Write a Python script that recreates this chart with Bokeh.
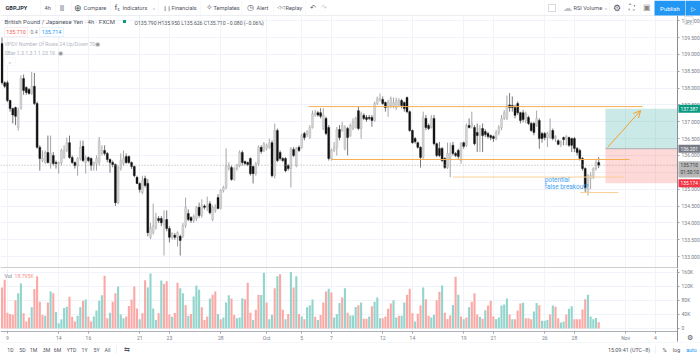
from bokeh.plotting import figure
from bokeh.layouts import column
from bokeh.embed import file_html
from bokeh.resources import INLINE
from bokeh.models import (Range1d, FixedTicker, LinearAxis, Label, BoxAnnotation, Arrow, OpenHead,
                          NumeralTickFormatter)

opens = [
139.32,138.16,138.16,137.63,137.39,137.42,136.83,137.39,138.28,138.02,
137.96,137.84,138.05,137.54,136.24,135.85,135.79,136.09,135.76,136.00,
135.79,135.76,135.79,135.94,136.15,136.38,135.94,135.79,135.70,135.91,
136.27,135.79,135.94,135.91,135.70,135.76,135.79,136.06,136.15,136.06,
135.88,135.79,135.73,134.60,135.61,135.76,135.97,135.97,135.79,135.67,
135.35,135.17,134.90,135.32,135.17,133.57,133.71,133.86,134.13,134.13,
133.95,134.10,133.83,133.57,133.63,133.57,133.60,133.60,133.92,134.28,
134.16,134.07,134.13,134.46,134.22,134.50,134.46,134.57,134.10,134.37,
134.75,134.43,134.96,135.05,135.61,135.64,135.29,135.61,135.70,136.09,
135.82,135.79,135.91,135.67,135.46,135.76,136.24,136.15,136.21,136.24,
136.38,135.40,136.74,136.09,135.91,135.91,135.70,135.61,136.18,135.70,
136.24,136.24,136.65,136.62,136.53,136.83,137.20,137.27,137.27,136.80,
137.10,136.83,135.91,136.15,136.24,136.77,136.74,136.21,136.80,136.59,
136.80,136.83,137.33,136.80,137.19,137.13,137.13,137.13,137.04,137.54,
137.63,137.66,137.57,137.42,137.48,137.45,137.42,137.51,137.63,137.57,
137.72,137.30,136.74,136.50,136.38,136.24,135.94,137.10,136.89,136.83,
137.10,136.35,136.21,136.21,135.91,135.64,135.91,136.30,136.06,136.15,
135.85,136.38,136.30,136.89,136.86,136.83,136.68,136.59,136.80,136.71,
136.65,136.59,136.56,136.53,136.68,136.83,137.10,137.10,137.50,137.48,
137.42,137.54,137.27,137.27,137.04,137.13,136.95,136.95,136.89,137.04,
136.65,136.65,136.53,136.53,136.74,136.50,136.44,136.33,136.53,136.50,
136.53,136.50,136.50,136.21,136.15,135.91,135.61,134.90,135.32,135.35,
135.61,135.79]
highs = [
139.50,138.20,138.22,137.66,137.42,137.45,137.42,138.38,138.40,138.05,
138.00,138.48,138.45,137.60,136.30,136.15,136.15,136.59,136.59,136.10,
135.85,135.82,136.20,136.30,136.53,136.59,136.00,135.82,135.95,136.44,
136.44,136.00,135.97,135.94,135.82,136.00,136.55,136.30,136.30,136.10,
135.91,135.85,135.76,135.70,136.06,136.15,136.06,136.00,135.82,135.70,
135.40,135.20,135.40,135.40,135.30,134.00,134.57,134.30,134.20,134.20,
134.37,134.37,133.90,133.72,133.70,133.75,133.65,134.00,134.75,134.40,
134.20,134.25,134.50,134.60,134.70,134.55,134.78,134.65,134.52,134.55,
134.85,135.00,135.10,136.21,135.80,135.70,135.65,135.75,136.15,136.15,
135.85,135.82,135.94,135.70,135.80,136.30,136.30,136.40,136.35,136.50,
136.45,136.95,136.80,136.15,135.95,135.95,135.75,136.25,136.25,136.25,
136.30,136.65,136.70,136.75,136.90,137.33,137.35,137.32,137.40,137.40,
137.15,136.90,136.20,136.40,136.85,136.90,137.00,136.90,136.85,136.95,
137.10,137.15,137.45,137.30,137.25,137.20,137.20,137.20,137.60,137.75,
137.84,137.75,137.60,137.65,137.75,137.72,137.72,137.70,137.68,137.60,
137.75,137.33,136.77,136.55,136.41,136.27,137.30,137.20,136.95,137.20,
137.20,136.38,136.40,136.25,135.95,136.38,136.38,136.40,136.10,136.20,
136.40,136.41,136.95,137.10,137.30,136.90,136.95,136.90,136.95,136.78,
136.70,136.62,136.60,136.75,136.90,137.20,137.35,137.78,137.85,137.75,
137.50,137.60,137.30,137.35,137.30,137.18,137.00,137.00,137.33,137.10,
136.70,136.70,136.70,137.10,136.80,136.60,136.48,136.45,136.56,136.60,
136.56,136.53,136.55,136.25,136.20,135.95,135.65,135.45,135.50,135.65,
135.90,135.95]
lows = [
138.10,138.00,137.58,137.30,136.95,136.90,136.74,137.36,137.80,137.80,
137.80,137.80,137.50,136.20,135.55,135.80,135.75,135.76,135.61,135.70,
135.61,135.46,135.70,135.90,136.10,135.90,135.75,135.61,135.40,135.85,
135.80,135.46,135.80,135.55,135.55,135.55,135.70,136.00,136.00,135.80,
135.49,135.65,134.50,134.55,135.55,135.70,135.75,135.75,135.60,135.35,
135.15,134.90,134.85,135.05,133.60,133.52,133.65,133.80,134.00,133.90,
133.03,133.75,133.42,133.50,133.50,133.30,133.03,133.55,133.85,134.05,
134.00,134.00,134.05,134.15,134.15,134.40,134.35,134.25,134.05,134.30,
134.40,134.40,134.90,135.00,135.55,135.25,135.25,135.55,135.65,135.70,
135.70,135.68,135.40,135.17,135.40,135.70,136.05,136.10,136.15,136.20,
135.35,135.32,135.80,135.85,135.80,135.50,135.55,135.05,135.95,135.65,
136.10,136.20,136.45,136.55,136.50,136.80,137.15,137.15,137.10,136.75,
136.60,135.85,135.85,136.10,136.00,136.45,136.70,136.15,136.00,136.55,
136.75,136.80,136.75,136.50,137.05,137.00,137.05,136.85,137.00,137.50,
137.60,137.50,137.30,137.15,137.40,137.40,137.35,137.45,137.40,137.30,
137.25,136.70,136.35,136.35,136.20,135.64,135.90,136.75,136.75,136.80,
136.30,135.95,135.95,135.80,135.60,135.60,135.35,136.00,135.95,135.90,
135.75,136.20,136.25,136.80,136.80,136.30,136.10,136.10,136.10,136.55,
136.50,136.45,136.40,136.45,136.60,136.75,137.05,137.05,137.30,137.30,
137.10,137.20,136.95,136.98,136.95,136.90,136.70,136.60,136.85,136.20,
136.38,136.45,136.25,136.50,136.45,136.40,136.30,136.25,136.30,136.30,
136.25,136.10,136.10,136.00,135.85,135.55,134.90,134.81,135.00,135.30,
135.55,135.626]
closes = [
138.16,138.05,137.63,137.39,137.20,137.16,137.33,138.28,137.93,137.87,
137.84,138.05,137.54,136.24,135.91,135.91,136.09,135.79,136.06,135.76,
135.76,135.79,136.15,136.15,136.38,135.94,135.79,135.70,135.91,136.24,
135.85,135.91,135.85,135.70,135.79,135.91,136.44,136.15,136.06,135.88,
135.79,135.73,134.60,135.64,135.85,135.91,135.79,135.79,135.67,135.40,
135.17,134.99,135.26,135.11,133.71,133.86,133.92,134.16,134.07,134.00,
134.07,133.83,133.57,133.68,133.57,133.71,133.48,133.92,134.46,134.10,
134.07,134.19,134.46,134.22,134.52,134.46,134.52,134.30,134.46,134.46,
134.43,134.96,135.05,135.70,135.70,135.29,135.61,135.70,136.09,135.79,
135.76,135.73,135.46,135.46,135.76,136.24,136.12,136.35,136.30,136.38,
135.40,136.74,135.85,135.91,135.85,135.55,135.61,136.21,136.00,136.21,
136.15,136.59,136.53,136.71,136.83,137.24,137.27,137.20,137.16,137.19,
136.65,135.91,136.15,136.24,136.77,136.53,136.89,136.83,136.53,136.89,
137.01,137.10,136.80,137.24,137.10,137.07,137.10,137.04,137.54,137.69,
137.69,137.54,137.42,137.57,137.69,137.57,137.63,137.63,137.48,137.39,
137.30,136.74,136.38,136.41,136.24,135.94,137.13,136.83,136.80,137.10,
136.35,136.00,136.00,135.85,135.64,136.06,136.06,136.06,136.00,135.97,
136.35,136.27,136.89,136.83,136.95,136.35,136.59,136.80,136.59,136.62,
136.56,136.53,136.50,136.68,136.83,137.10,137.27,137.48,137.42,137.42,
137.19,137.27,137.04,137.07,137.24,136.95,136.74,136.68,137.10,136.50,
136.50,136.53,136.65,136.74,136.50,136.56,136.33,136.41,136.47,136.56,
136.30,136.30,136.21,136.09,135.91,135.61,135.05,135.40,135.40,135.61,
135.79,135.71]
volumes_k = [
116,138,45,41,39,80,100,128,43,20,31,60,112,148,76,38,36,74,105,100,
47,15,26,58,62,90,33,20,36,60,79,82,34,20,34,51,79,94,150,29,
45,76,100,119,40,29,34,64,82,119,57,26,43,137,116,156,57,24,43,136,
126,134,40,33,44,130,114,100,66,36,41,91,122,110,60,24,34,85,96,105,
41,26,31,74,94,85,38,29,31,86,83,130,45,24,53,96,95,158,74,26,
39,114,148,154,53,26,41,160,116,148,41,34,26,60,66,82,33,24,38,74,
105,113,102,31,41,72,88,114,45,
37,37,61,66,74,28,28,34,63,76,88,29,29,34,56,71,80,31,36,36,
74,96,113,43,20,42,65,116,83,36,31,39,80,104,122,45,27,37,67,147,
96,34,26,31,60,76,100,40,33,28,52,65,79,34,26,31,65,68,85,40,
26,26,51,71,73,29,29,26,48,72,66,22,22,24,40,65,62,29,17,20,
40,56,63,26,26,26,54,83,96,34,26,30,18]
volume_up = [
0,0,0,0,0,0,1,1,0,0,0,1,0,0,0,0,1,0,1,0,
1,1,1,1,1,0,0,0,1,1,0,1,0,0,1,1,1,1,0,0,
1,0,0,1,1,1,0,0,0,0,0,1,0,0,1,1,1,1,0,1,
0,0,0,1,0,0,1,1,0,1,0,1,1,1,0,0,0,1,0,0,
1,0,1,1,1,0,0,1,1,1,0,0,0,1,0,0,1,1,0,1,
1,0,1,0,0,1,0,1,0,1,0,1,0,1,1,1,0,1,0,0,
0,1,0,1,1,1,0,1,0,
1,1,1,0,1,0,0,1,0,1,1,1,0,0,0,0,1,1,0,1,
1,0,0,0,1,0,0,1,0,0,1,1,0,0,1,0,0,0,1,0,
1,0,1,0,1,0,0,0,1,0,1,0,0,0,1,1,1,1,1,0,
1,0,0,0,1,0,0,0,1,1,0,1,1,1,0,1,0,0,1,1,
0,1,1,0,0,0,0,0,1,1,1,1,0]
tick_idx = [2,21,32,51,62,81,98,111,122,141,152,171,182,201,212,231,242]
tick_txt = ["9","14","16","21","23","28","Oct","5","7","12","14","19","21","26","28","Nov","4"]
price_ticks = [133.0,133.5,134.0,134.5,135.0,135.5,136.0,136.5,137.0,137.5,138.0,138.5,139.0,139.5,140.0]
vol_ticks = [0,40,80,120,160]
vol_txt = ["0","40K","80K","120K","160K"]
resistance = 137.45
levels = [135.88,135.36,134.90]
target, entry, stop, last = 137.387, 136.201, 135.174, 135.71
title = "British Pound / Japanese Yen \u00b7 4h \u00b7 FXCM"
ohlc_txt = "O135.790 H135.950 L135.626 C135.710 \u22120.080 (\u22120.06%)"

W, H = 700, 357
PB = 268
VB = 357
FONT = "Roboto"
GRID = "#f0f3fa"
AX = "#787b86"
XR = Range1d(-0.556, 258.7)
XEND = 250.2          # right edge of the panes
P_TOP, P_BOT = 140.153, 132.646
V_TOP, V_BOT, V_END = 170000, -8500, -36900

def base(h, yr):
    f = figure(width=W, height=h, x_range=XR, y_range=yr, output_backend="svg", toolbar_location=None,
               min_border=0, x_axis_location=None, y_axis_location=None)
    f.outline_line_color = None
    f.background_fill_color = "white"
    f.border_fill_color = "white"
    f.xgrid.ticker = FixedTicker(ticks=tick_idx)
    f.xgrid.grid_line_color = GRID
    f.ygrid.grid_line_color = GRID
    return f

p = base(PB, Range1d(132.646, 140.598))
v = base(H-PB, Range1d(-82270, 170213))
p.ygrid.ticker = FixedTicker(ticks=price_ticks)
v.ygrid.ticker = FixedTicker(ticks=[t*1000 for t in vol_ticks])

def axis(f, ticks, bounds):
    a = LinearAxis(ticker=FixedTicker(ticks=ticks), fixed_location=XEND, bounds=bounds)
    a.axis_line_color = "#8a8d96"
    a.axis_line_width = 1
    a.major_tick_line_color = "#a0a3ab"
    a.major_tick_out = 2
    a.major_tick_in = 0
    a.minor_tick_out = 0
    a.minor_tick_in = 0
    a.major_label_standoff = 2
    a.major_label_text_font = FONT
    a.major_label_text_font_size = "5px"
    a.major_label_text_color = AX
    f.add_layout(a, "right")
    return a

# white masks over the grid outside the panes
p.quad(-1, 260, P_TOP, 141, fill_color="white", line_color=None)
p.quad(XEND, 260, 132, 141, fill_color="white", line_color=None)
v.quad(-1, 260, -90000, V_BOT, fill_color="white", line_color=None)
v.quad(XEND, 260, -90000, 180000, fill_color="white", line_color=None)

pa = axis(p, price_ticks, (P_BOT, P_TOP))
pa.formatter = NumeralTickFormatter(format="0.000")
va = axis(v, [t*1000 for t in vol_ticks], (V_END, V_TOP))
va.major_label_overrides = {t*1000: s for t, s in zip(vol_ticks, vol_txt)}

xa = LinearAxis(ticker=FixedTicker(ticks=tick_idx), major_label_overrides=dict(zip(tick_idx, tick_txt)),
                fixed_location=V_BOT, bounds=(-0.556, XEND))
xa.axis_line_color = "#aeb0b7"
xa.major_tick_line_color = "#a0a3ab"
xa.major_tick_out = 2
xa.major_tick_in = 0
xa.minor_tick_out = 0
xa.minor_tick_in = 0
xa.major_label_standoff = 2
xa.major_label_text_font = FONT
xa.major_label_text_font_size = "5px"
xa.major_label_text_color = AX
v.add_layout(xa, "below")

# candles
idx = list(range(len(opens)))
assert len(opens) == len(highs) == len(lows) == len(closes)
up = [i for i in idx if closes[i] >= opens[i]]
dn = [i for i in idx if closes[i] < opens[i]]
p.segment([i for i in up], [highs[i] for i in up], [i for i in up], [lows[i] for i in up],
          line_color="#8f8f8f", line_width=0.8)
p.segment([i for i in dn], [highs[i] for i in dn], [i for i in dn], [lows[i] for i in dn],
          line_color="#555555", line_width=0.8)
p.vbar([i for i in up], 0.72, [closes[i] for i in up], [opens[i] for i in up],
       fill_color="#d4d4d4", line_color="#b0b0b0", line_width=0.4)
p.vbar([i for i in dn], 0.72, [opens[i] for i in dn], [closes[i] for i in dn],
       fill_color="#111111", line_color="#111111", line_width=0.4)

# volume
vi = list(range(len(volumes_k)))
v.vbar(vi, 0.78, [volumes_k[i]*1000 for i in vi], 0,
       fill_color=["#92d5cd" if volume_up[i] else "#fba9a6" for i in vi], line_color=None)

# drawings
ORANGE = "#f7b04f"
ORANGE2 = "#fbcf96"
p.quad(223.5, XEND, target, entry, fill_color="#26a69a", fill_alpha=0.24, line_color=None)
p.quad(223.5, XEND, entry, stop, fill_color="#f44336", fill_alpha=0.2, line_color=None)
p.segment(223.5, entry, XEND, entry, line_color="#9aa0a6", line_width=0.8)
p.segment(113.5, resistance, 237.2, resistance, line_color=ORANGE, line_width=1)
p.segment(122, levels[0], 232.4, levels[0], line_color=ORANGE, line_width=1)
p.segment(167, levels[1], 230.2, levels[1], line_color=ORANGE2, line_width=1)
p.segment(214.2, levels[2], 228.3, levels[2], line_color=ORANGE2, line_width=1)
p.add_layout(Arrow(end=OpenHead(size=7, line_color="#f59f2d", line_width=1), x_start=224.3, y_start=136.24,
                   x_end=236.5, y_end=137.33, line_color="#f59f2d", line_width=1))
p.segment(-0.556, last, XEND, last, line_color="#9a9a9a", line_width=0.8, line_dash="1 2")
p.segment(-0.556, 132.66, XEND, 132.66, line_color="#9d9d9d", line_width=1.2)
p.add_layout(Label(x=201, y=135.26, text="potential", text_font=FONT, text_font_size="6.4px",
                   text_color="#3ea2f2", text_baseline="middle"))
p.add_layout(Label(x=201, y=135.06, text="false breakout?", text_font=FONT, text_font_size="6.4px",
                   text_color="#3ea2f2", text_baseline="middle"))

def lab(f, fb, txt, x, y, size=5.6, color="#50535e", align="left", style="normal", bg=None, border=None, pad=0):
    f.add_layout(Label(x=x, y=fb-y, x_units="screen", y_units="screen", text=txt, text_font=FONT,
                       text_font_size=f"{size}px", text_color=color, text_align=align, text_baseline="middle",
                       text_font_style=style, background_fill_color=bg, border_line_color=border,
                       border_line_width=0.7, padding=pad))

def box(f, fb, x0, y0, x1, y1, fill, line=None):
    f.add_layout(BoxAnnotation(left=x0, right=x1, top=fb-y0, bottom=fb-y1,
                               left_units="screen", right_units="screen", top_units="screen", bottom_units="screen",
                               fill_color=fill, fill_alpha=1, line_color=line, line_width=0.7))

# top toolbar
box(p, PB, 0, 14.5, 700, 15.2, "#e6e8ee")
for sx in [40, 55, 71, 110, 158, 200, 241, 273, 305, 544, 558, 609, 623, 640]:
    box(p, PB, sx, 0, sx+0.5, 14.5, "#f0f1f4")
lab(p, PB, "GBP.JPY", 5, 7, 5.6, "#2a2e39", style="bold")
lab(p, PB, "4h", 44, 7)
lab(p, PB, "\u2AFF\u2AFF", 59, 7, 6)
lab(p, PB, "\u2295", 73, 7, 9)
lab(p, PB, "Compare", 83, 7)
lab(p, PB, "f\u2093", 114, 7, 8)
lab(p, PB, "Indicators", 122, 7)
lab(p, PB, "\u02C5", 152, 7, 5)
lab(p, PB, "\u2759\u2759", 162, 7, 5, "#888888")
lab(p, PB, "Financials", 171, 7)
lab(p, PB, "\u2727", 205, 7, 8)
lab(p, PB, "Templates", 213, 7)
lab(p, PB, "\u25F7", 246, 7, 8)
lab(p, PB, "Alert", 256, 7)
lab(p, PB, "\u25C1\u25C1", 276, 7, 4.5)
lab(p, PB, "Replay", 285, 7)
lab(p, PB, "\u21B6", 309, 7, 7)
lab(p, PB, "\u21B7", 320, 7, 7, "#c8cad0")
box(p, PB, 548, 4, 555, 11, "white", "#50535e")
lab(p, PB, "\u2601", 562, 7, 9, "#c0c2c8")
lab(p, PB, "RSI Volume", 573, 7)
lab(p, PB, "\u02C5", 604, 7, 5)
lab(p, PB, "\u2699", 612, 7, 9)
lab(p, PB, "\u26F6", 628, 7, 8)
lab(p, PB, "\u25A3", 642, 7, 8, "#888888")
box(p, PB, 654, 0, 685, 15, "#2196f3")
box(p, PB, 685.5, 0, 700, 15, "#2196f3")
lab(p, PB, "Publish", 669.5, 7.5, 6, "white", "center")
lab(p, PB, "\u25B7", 692.5, 7.5, 6, "white", "center")
# legend
lab(p, PB, title, 4, 21, 6, "#50535e")
box(p, PB, 122.5, 19.5, 125.5, 22.5, "#089981")
lab(p, PB, ohlc_txt, 134, 22, 5.1, "#50535e")
box(p, PB, 4, 27, 27, 36, "white", "#f7a8a5")
lab(p, PB, "135.710", 15.5, 31.5, 5.4, "#ef5350", "center")
lab(p, PB, "0.4", 30, 31.5, 5, "#787b86")
box(p, PB, 39, 27, 63, 36, "white", "#8cc8f7")
lab(p, PB, "135.714", 51, 31.5, 5.4, "#2196f3", "center")
lab(p, PB, "VPSV Number Of Rows 24 Up/Down 70", 4, 43, 5.2, "#b2b5be")
lab(p, PB, "\u25C9", 94, 43, 6, "#909090")
lab(p, PB, "SBar 1.3 1.3 1 1 23 19", 4, 52, 5.2, "#b2b5be")
lab(p, PB, "\u25C9", 57, 52, 6, "#909090")
box(p, PB, 4, 57, 15, 65, "white", "#e0e3eb")
lab(p, PB, "\u02C4", 9.5, 61, 5, "#50535e", "center")
# price tags
def tag(txt, price, bgc, fg="white"):
    p.add_layout(Label(x=678, y=price, x_units="screen", y_units="data", text=txt, text_font=FONT,
                       text_font_size="4.8px", text_color=fg, text_baseline="middle",
                       background_fill_color=bgc, padding=2))
tag("137.387", target, "#089981")
tag("136.201", entry, "#787b86")
tag("135.710", last, "#b8b8b8", "#3a3a3a")
tag("01:50:10", 135.48, "#b8b8b8", "#3a3a3a")
tag("135.174", stop, "#f23645")
lab(p, PB, "jpy", 688.5, 20, 5, "#787b86", "center", bg="white", border="#d6d8de", pad=1)

# volume legend and bottom toolbar
lab(v, VB, "Vol", 4, 275, 5.2, "#787b86")
lab(v, VB, "18.795K", 14, 275, 5.2, "#f7918c")
box(v, VB, 0, 342, 700, 342.6, "#eceef2")
for t, x in zip(["1D", "5D", "1M", "3M", "6M", "YTD", "1Y", "5Y", "All"], [10, 22, 33, 46, 57, 71, 84, 96, 107]):
    lab(v, VB, t, x, 349, 5.2, "#50535e", "center")
box(v, VB, 116, 345, 116.5, 353, "#e0e3eb")
lab(v, VB, "\u21C6", 126, 349, 7, "#50535e", "center")
lab(v, VB, "15:09:41 (UTC\u22128)", 628.5, 349, 5.4, "#50535e", "center")
box(v, VB, 655, 345, 655.5, 353, "#e0e3eb")
lab(v, VB, "%", 664, 349, 5.6, "#50535e", "center")
lab(v, VB, "log", 676, 349, 5.4, "#50535e", "center")
lab(v, VB, "auto", 691, 349, 5.4, "#2196f3", "center")
lab(v, VB, "\u2699", 689, 337, 7, "#50535e", "center")

page = column(p, v, spacing=0)
open("out.html", "w").write(file_html(page, INLINE))
